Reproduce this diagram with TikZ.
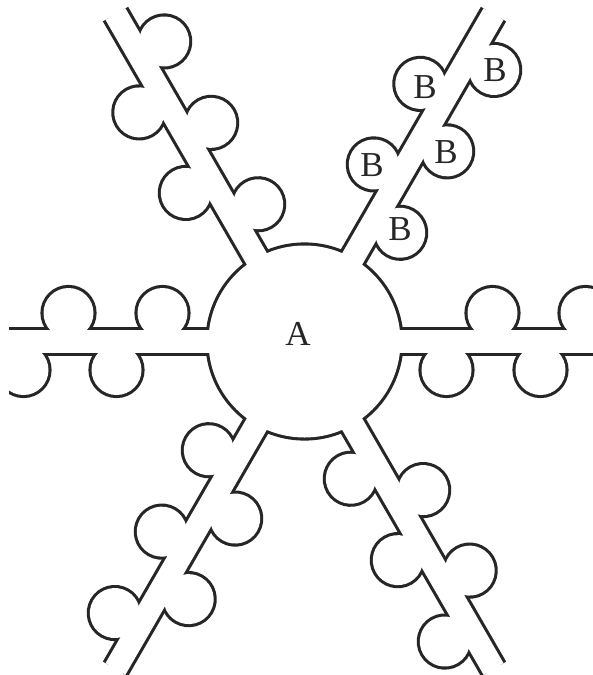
\documentclass[tikz,border=0pt]{standalone}
\usepackage{fontspec}
\setmainfont{Liberation Serif}
\newcommand\flowerparts[1]{%
  \path[#1] (0,0) circle (96);
  \foreach \a in {0,60,...,300} {
    \begin{scope}[rotate=\a]
      \path[#1] (0,-11.5) rectangle (470,11.5);
      \foreach \u in {188,281} \path[#1] (\u,-28.5) circle (25);
      \foreach \u in {142,236,330} \path[#1] (\u,28.5) circle (25);
    \end{scope}
  }%
}
\begin{document}
\begin{tikzpicture}[x=1pt,y=-1pt,
  outline/.style={draw=black!85, line width=6.2pt},
  interior/.style={fill=white},
  lbl/.style={font=\fontsize{35}{35}\selectfont, inner sep=0pt, text=black!85}]
\useasboundingbox (0,0) rectangle (592,675);
\fill[white] (0,0) rectangle (592,675);
\begin{scope}
  \clip (9,-5) rectangle (600,680);
  \begin{scope}[shift={(304.5,341.5)}]
    \clip (30:436.5) -- (90:436.5) -- (150:436.5) -- (210:436.5) -- (270:436.5) -- (330:436.5) -- cycle;
    \flowerparts{outline}
    \flowerparts{interior}
  \end{scope}
\end{scope}
\node[lbl] (a) at (298,334) {A};
\node[lbl] (b1) at (495,70) {B};
\node[lbl] (b2) at (425,87) {B};
\node[lbl] (b3) at (446,152) {B};
\node[lbl] (b4) at (372,165) {B};
\node[lbl] (b5) at (400,229) {B};
\end{tikzpicture}
\end{document}
